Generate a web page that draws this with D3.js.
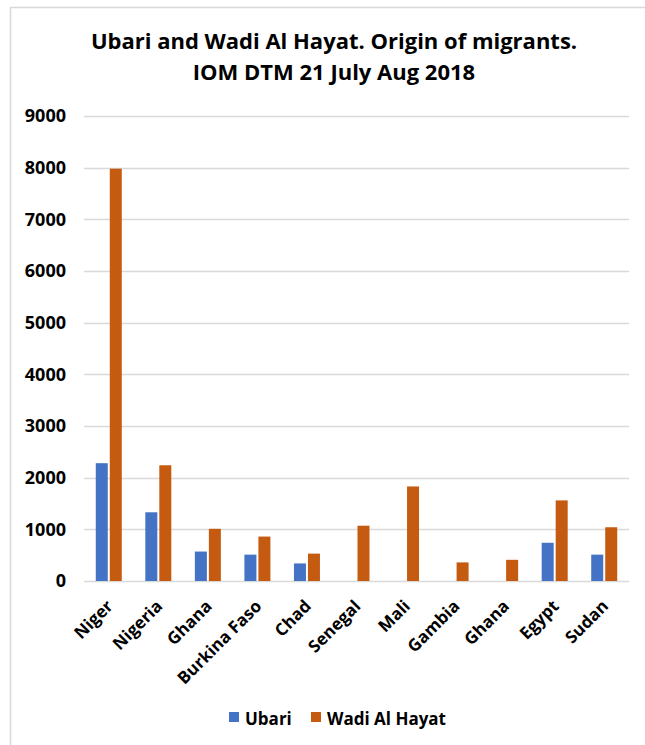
<!DOCTYPE html>
<html>
<head>
<meta charset="utf-8">
<script src="https://cdn.jsdelivr.net/npm/d3@7"></script>
<style>
  body { margin: 0; background: #fff; }
  text { font-family: "Open Sans", Lato, sans-serif; }
</style>
</head>
<body>
<script>
// chart data
var countries = ['Niger', 'Nigeria', 'Ghana', 'Burkina Faso', 'Chad', 'Senegal', 'Mali', 'Gambia', 'Ghana ', 'Egypt', 'Sudan'];
var ubari = [2280, 1330, 570, 510, 340, 0, 0, 0, 0, 740, 510];
var wadiAlHayat = [7980, 2240, 1010, 860, 530, 1070, 1830, 360, 410, 1560, 1040];
var seriesNames = ['Ubari', 'Wadi Al Hayat'];
var seriesColors = ['#4472C4', '#C55A11'];
var yTicks = [0, 1000, 2000, 3000, 4000, 5000, 6000, 7000, 8000, 9000];

var width = 645, height = 745;
var margin = {left: 84, right: 16, top: 116, bottom: 164};

var svg = d3.select('body').append('svg').attr('width', width).attr('height', height);

// chart frame
svg.append('rect').attr('x', 10.5).attr('y', 7.5).attr('width', width + 10).attr('height', height + 10)
  .attr('fill', 'none').attr('stroke', '#D9D9D9').attr('stroke-width', 1.5);

// title
var title = svg.append('text').attr('text-anchor', 'middle').attr('font-size', 22).attr('font-weight', 'bold').attr('fill', '#000');
title.append('tspan').attr('x', 334).attr('y', 49).text('Ubari and Wadi Al Hayat. Origin of migrants.');
title.append('tspan').attr('x', 334).attr('y', 80).text('IOM DTM 21 July Aug 2018');

var x = d3.scaleBand().domain(d3.range(countries.length)).range([margin.left, width - margin.right]);
var y = d3.scaleLinear().domain([0, 9000]).range([height - margin.bottom, margin.top]);

// gridlines
svg.append('g').selectAll('line').data(yTicks).enter().append('line')
  .attr('x1', margin.left).attr('x2', width - margin.right)
  .attr('y1', function(d) { return Math.round(y(d)) + 0.5; })
  .attr('y2', function(d) { return Math.round(y(d)) + 0.5; })
  .attr('stroke', '#D9D9D9').attr('stroke-width', 1.3);

// y axis labels
var yAxis = svg.append('g').attr('transform', 'translate(' + (margin.left - 6) + ',0)')
  .call(d3.axisLeft(y).tickValues(yTicks).tickSize(0).tickPadding(12).tickFormat(d3.format('d')));
yAxis.select('.domain').remove();
yAxis.selectAll('text').attr('font-size', 18).attr('font-weight', 'bold').attr('fill', '#000');

// bars
var barW = 12, barGap = 2;
var series = [ubari, wadiAlHayat];
series.forEach(function(vals, s) {
  svg.append('g').selectAll('rect').data(vals).enter().append('rect')
    .attr('x', function(d, i) { return x(i) + x.bandwidth() / 2 + (s === 0 ? -barW - barGap / 2 : barGap / 2); })
    .attr('y', function(d) { return y(d); })
    .attr('width', barW)
    .attr('height', function(d) { return y(0) - y(d); })
    .attr('fill', seriesColors[s]);
});

// x labels, rotated
svg.append('g').selectAll('text').data(countries).enter().append('text')
  .attr('transform', function(d, i) { return 'translate(' + (x(i) + x.bandwidth() / 2 + 1) + ',' + (y(0) + 22) + ') rotate(-45)'; })
  .attr('text-anchor', 'end').attr('dy', '0.35em')
  .attr('font-size', 17).attr('font-weight', 'bold').attr('fill', '#000')
  .text(function(d) { return d.trim(); });

// legend
var legendX = [229, 311];
var legend = svg.append('g').selectAll('g').data(seriesNames).enter().append('g')
  .attr('transform', function(d, i) { return 'translate(' + legendX[i] + ',712)'; });
legend.append('rect').attr('width', 10).attr('height', 10).attr('fill', function(d, i) { return seriesColors[i]; });
legend.append('text').attr('x', 16).attr('y', 13).attr('font-size', 17).attr('font-weight', 'bold').attr('fill', '#000')
  .text(function(d) { return d; });
</script>
</body>
</html>
